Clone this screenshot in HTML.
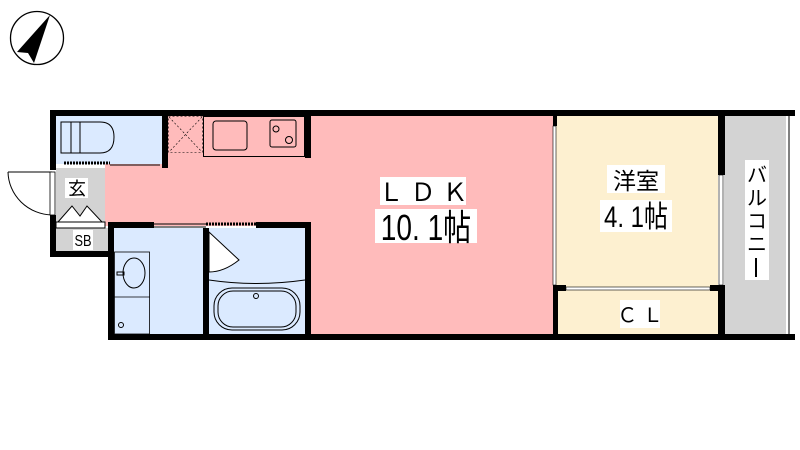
<!DOCTYPE html>
<html><head><meta charset="utf-8"><style>html,body{margin:0;padding:0;background:#fff}svg{display:block}</style></head><body>
<svg width="800" height="450" viewBox="0 0 800 450" xmlns="http://www.w3.org/2000/svg" font-family="'Liberation Sans','Noto Sans CJK JP',sans-serif">
<circle cx="37" cy="38" r="26.5" fill="none" stroke="#000" stroke-width="1.3"/>
<polygon points="50,15 17,52 28,53 34,63" fill="#000"/>
<rect x="105" y="116" width="450" height="110" fill="#ffbbbb"/>
<rect x="305" y="116" width="250" height="220" fill="#ffbbbb"/>
<rect x="56" y="116" width="108" height="48" fill="#dbeaff"/>
<rect x="168" y="116" width="137" height="40" fill="#ffbbbb"/>
<rect x="56" y="168" width="49" height="56" fill="#d3d3d3"/>
<rect x="56" y="228" width="52" height="24" fill="#d3d3d3"/>
<rect x="114" y="228" width="92" height="106" fill="#dbeaff"/>
<rect x="209" y="228" width="96" height="106" fill="#dbeaff"/>
<rect x="556" y="116" width="162" height="218" fill="#fdf0d0"/>
<rect x="724" y="116" width="62" height="218" fill="#d3d3d3"/>
<rect x="168.5" y="116.5" width="34" height="36" fill="none" stroke="#000" stroke-width="0.6" stroke-dasharray="2,2"/>
<line x1="169" y1="117" x2="202" y2="152" stroke="#000" stroke-width="0.6" stroke-dasharray="2,2"/>
<line x1="202" y1="117" x2="169" y2="152" stroke="#000" stroke-width="0.6" stroke-dasharray="2,2"/>
<rect x="203.5" y="116.5" width="101" height="40" fill="none" stroke="#000" stroke-width="1"/>
<rect x="213" y="121" width="34" height="29" rx="3" fill="none" stroke="#000" stroke-width="1"/>
<rect x="270" y="120" width="26" height="27" rx="2" fill="none" stroke="#000" stroke-width="1"/>
<circle cx="276" cy="129" r="3" fill="none" stroke="#000"/><circle cx="289" cy="140" r="3.5" fill="none" stroke="#000"/>
<rect x="61" y="122" width="10" height="31" fill="none" stroke="#000"/>
<rect x="71" y="122" width="9" height="31" fill="none" stroke="#000"/>
<path d="M80 122 H100 Q114 122 114 137 Q114 153 100 153 H80" fill="none" stroke="#000"/>
<line x1="64" y1="163" x2="110" y2="163" stroke="#000" stroke-width="3" stroke-dasharray="2,1"/>
<line x1="110" y1="165" x2="160" y2="165" stroke="#000" stroke-width="1"/>
<path d="M58 222 L72 206 L80 216 L87 206 L102 222 Z" fill="#fff" stroke="#000"/>
<rect x="65" y="178" width="23" height="20" fill="#fff"/>
<text x="77" y="195" font-size="18" text-anchor="middle">玄</text>
<rect x="73" y="230" width="20" height="20" fill="#fff"/>
<text transform="translate(83,246) scale(0.8,1)" font-size="16" text-anchor="middle">SB</text>
<path d="M8 172 A45 44 0 0 0 52 215" fill="none" stroke="#000"/>
<line x1="8" y1="172" x2="52" y2="172" stroke="#000"/>
<rect x="50" y="172" width="5" height="43" fill="#fff" stroke="#000" stroke-width="0.8"/>
<rect x="114.5" y="252" width="35" height="82" fill="none" stroke="#000" stroke-width="0.8"/>
<line x1="114" y1="297" x2="150" y2="297" stroke="#000" stroke-width="0.8"/>
<ellipse cx="134" cy="273" rx="11" ry="15" fill="none" stroke="#000"/>
<rect x="117" y="272" width="7" height="3" fill="none" stroke="#000"/>
<circle cx="121" cy="325" r="2.5" fill="none" stroke="#000"/>
<path d="M209 232 L209 272 Q224 272 239 260 Z" fill="#fff" stroke="#000"/>
<path d="M209 280 Q256 287 305 280" fill="none" stroke="#000"/>
<rect x="214" y="288" width="86" height="42" rx="18" fill="none" stroke="#000"/>
<rect x="218" y="291" width="78" height="36" rx="15" fill="none" stroke="#000"/>
<circle cx="256" cy="296" r="2.5" fill="none" stroke="#000"/>
<g fill="#000">
<rect x="50" y="110" width="745" height="6"/>
<rect x="108" y="334" width="687" height="6"/>
<rect x="50" y="110" width="6" height="60"/>
<rect x="50" y="215" width="6" height="41"/>
<rect x="50" y="251" width="64" height="6"/>
<rect x="108" y="222" width="6" height="118"/>
<rect x="162" y="110" width="6" height="58"/>
<rect x="305" y="116" width="6" height="42"/>
<rect x="114" y="222" width="40" height="6"/>
<rect x="256" y="222" width="55" height="6"/>
<rect x="305" y="222" width="6" height="118"/>
<rect x="203" y="228" width="6" height="106"/>
<rect x="56" y="222" width="49" height="6" fill="#fff" stroke="#000" stroke-width="1"/>
<rect x="553" y="116" width="4" height="10"/>
<rect x="553" y="285" width="5" height="50"/>
<rect x="718" y="110" width="7" height="65"/>
<rect x="718" y="285" width="7" height="50"/>
<rect x="556" y="285" width="10" height="6"/>
<rect x="710" y="285" width="10" height="6"/>
</g>
<line x1="154" y1="224" x2="206" y2="224" stroke="#000"/><line x1="154" y1="227" x2="206" y2="227" stroke="#000"/>
<line x1="206" y1="224" x2="256" y2="224" stroke="#000" stroke-width="3" stroke-dasharray="2,1"/>
<rect x="553" y="126" width="3" height="159" fill="#fff" stroke="#000" stroke-width="0.6"/>
<rect x="719" y="175" width="4" height="110" fill="#fff" stroke="#000" stroke-width="0.6"/>
<rect x="566" y="287" width="144" height="3" fill="#fff" stroke="#000" stroke-width="0.6"/>
<line x1="789" y1="116" x2="789" y2="334" stroke="#000"/>
<rect x="380" y="177" width="86" height="28" fill="#fff"/>
<text x="423" y="201" font-size="25" text-anchor="middle">Ｌ Ｄ Ｋ</text>
<rect x="375" y="209" width="102" height="34" fill="#fff"/>
<text transform="translate(426,240) scale(0.78,1)" font-size="36" text-anchor="middle">10. 1帖</text>
<rect x="607" y="165" width="58" height="28" fill="#fff"/>
<text x="636" y="189" font-size="23" text-anchor="middle">洋室</text>
<rect x="600" y="200" width="72" height="32" fill="#fff"/>
<text transform="translate(636,227) scale(0.8,1)" font-size="30" text-anchor="middle">4. 1帖</text>
<rect x="620" y="300" width="40" height="28" fill="#fff"/>
<text x="640" y="322" font-size="20" text-anchor="middle">Ｃ Ｌ</text>
<rect x="745" y="160" width="24" height="120" fill="#fff"/>
<g font-size="20" text-anchor="middle">
<text x="757" y="182">バ</text><text x="757" y="205">ル</text><text x="757" y="228">コ</text><text x="757" y="251">ニ</text><rect x="755" y="258" width="2" height="19" fill="#000"/>
</g>
</svg>
</body></html>
